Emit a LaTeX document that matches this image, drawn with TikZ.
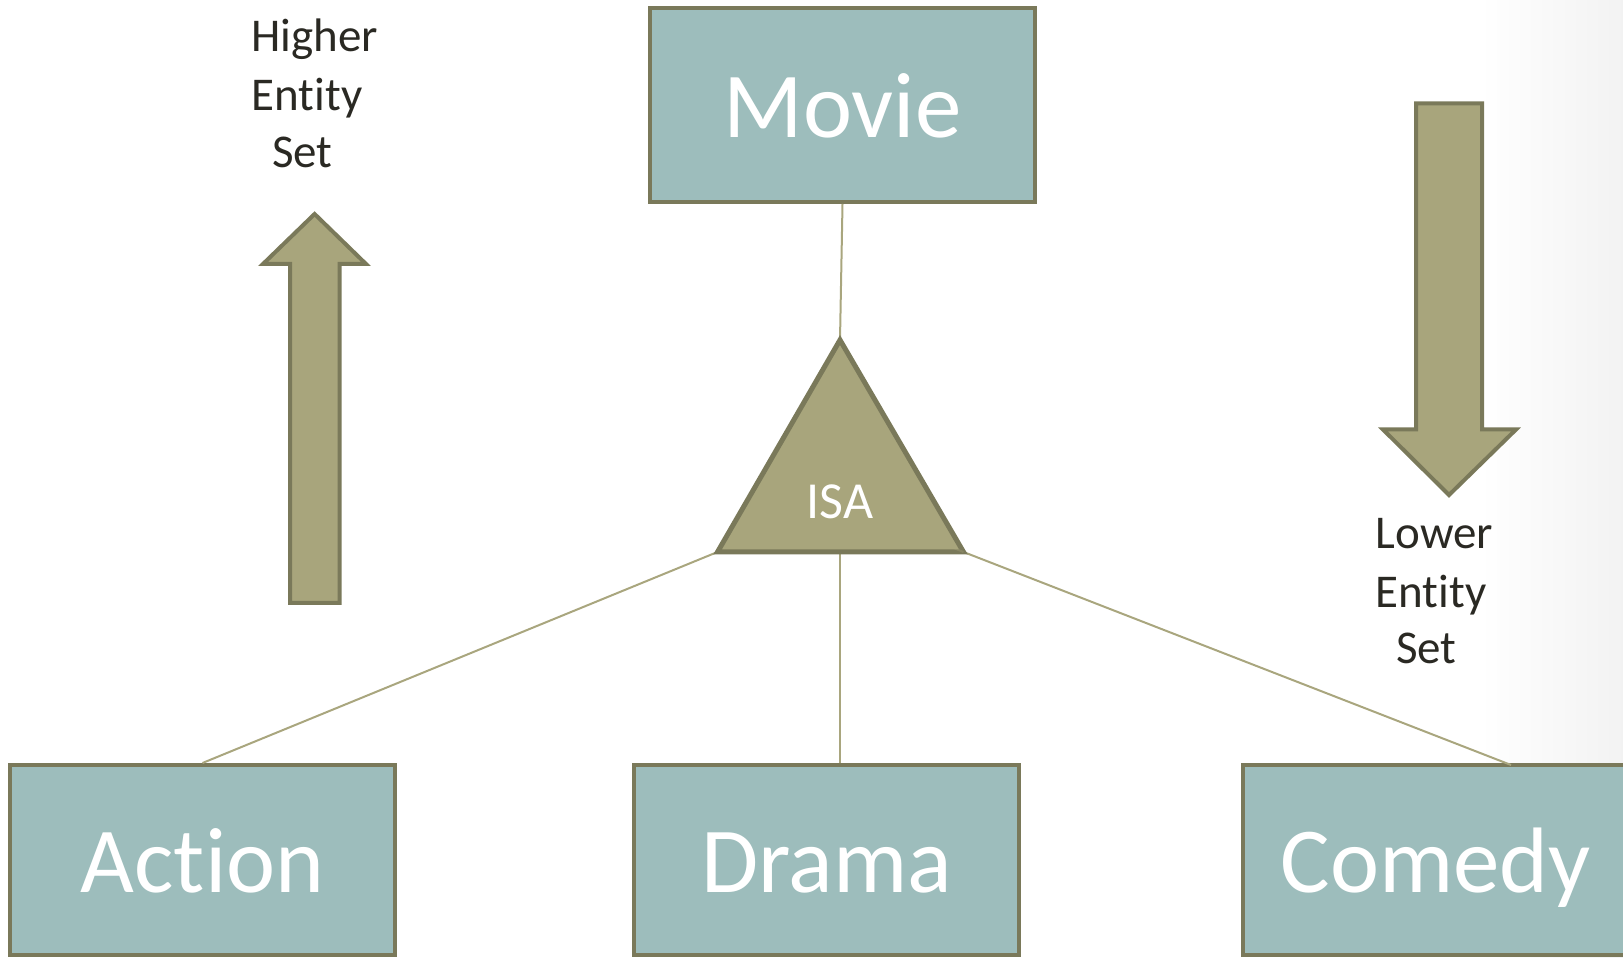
\documentclass[tikz,border=0pt]{standalone}
\usepackage{fontspec}
\setmainfont{Carlito}[Ligatures=NoCommon]
\definecolor{boxfill}{HTML}{9DBDBC}
\definecolor{edgeol}{HTML}{7A795A}
\definecolor{olivefill}{HTML}{A8A57C}
\definecolor{linkol}{HTML}{A9A67E}
\definecolor{inkdark}{HTML}{2A2923}
\tikzset{
  entity/.style={draw=edgeol, line width=4pt, fill=boxfill, text=white,
    minimum width=385pt, minimum height=190pt, inner sep=0pt,
    font=\fontsize{93}{110}\selectfont, text height=65pt, text depth=0pt},
  link/.style={draw=linkol, line width=2pt},
  bigarrow/.style={draw=edgeol, line width=4pt, fill=olivefill, line join=miter},
  isabody/.style={draw=edgeol, line width=5pt, fill=olivefill, line join=miter},
  sidelabel/.style={text=inkdark, inner sep=0pt, anchor=base west,
    font=\fontsize{47}{58}\selectfont},
}
\begin{document}
\begin{tikzpicture}[x=1pt,y=1pt]
\useasboundingbox (0,0) rectangle (1623,958);
% faint grey fade along the right edge
\shade[left color=white, right color=black!5] (1480,0) rectangle (1623,958);

% ISA triangle corners
\coordinate (isaTop) at (840,618);
\coordinate (isaL) at (717.5,406);
\coordinate (isaR) at (963.5,406);
\coordinate (isaMid) at (840,406);
\coordinate (isaIn) at (906,429);

% entity sets
\node[entity, minimum height=194pt] (movie) at (842.5,853) {Movie};
\node[entity] (action) at (202.5,98) {Action};
\node[entity] (drama) at (826.75,98) {Drama};
\node[entity] (comedy) at (1435.5,98) {Comedy};

\coordinate (dramaIn) at (isaMid |- drama.north);
\coordinate (comedyIn) at (1511,193);

% connectors
\draw[link] (movie.south) -- (isaTop);
\draw[link] (isaL) -- (action.north);
\draw[link] (isaMid) -- (dramaIn);
\draw[link] (isaR) -- (comedyIn);

% ISA triangle
\draw[isabody] (isaTop) -- (isaR) -- (isaL) -- cycle;
\draw[link, opacity=0.3] (isaIn) -- (isaR);
\node[text=white, inner sep=0pt, font=\fontsize{52}{60}\selectfont] (isa) at (840,456) {ISA};

% upward block arrow
\draw[bigarrow] (314.6,744) -- (366,694) -- (339.5,694) -- (339.5,355)
  -- (290,355) -- (290,694) -- (263,694) -- cycle;
% downward block arrow
\draw[bigarrow] (1449,463) -- (1516,528.5) -- (1482,528.5) -- (1482,854.5)
  -- (1416,854.5) -- (1416,528.5) -- (1383,528.5) -- cycle;

% side labels
\node[sidelabel] (hiA) at (251.5,906.3) {Higher};
\node[sidelabel] (hiB) at (251.5,847.3) {Entity};
\node[sidelabel] (hiC) at (272,790.3) {Set};
\node[sidelabel] (loA) at (1375.5,409.5) {Lower};
\node[sidelabel] (loB) at (1375.5,350.5) {Entity};
\node[sidelabel] (loC) at (1396,294.5) {Set};
\end{tikzpicture}
\end{document}
